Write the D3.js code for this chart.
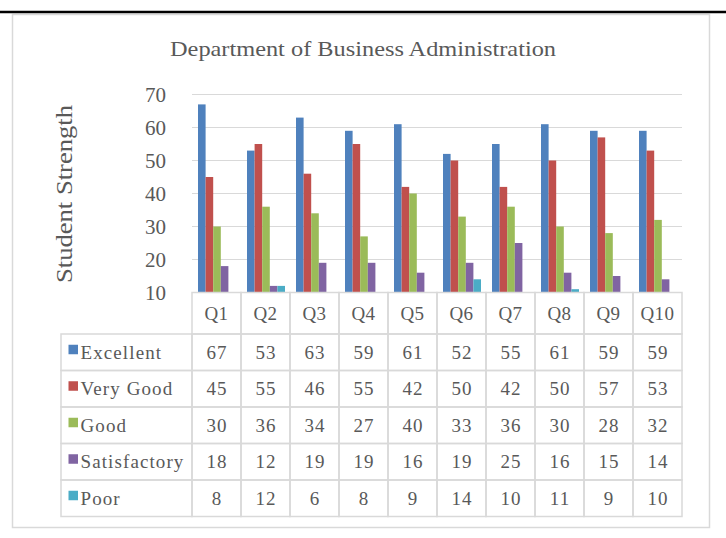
<!DOCTYPE html>
<html><head><meta charset="utf-8">
<script src="https://cdn.jsdelivr.net/npm/d3@7"></script>
<style>body{margin:0;background:#fff}svg{display:block}</style>
</head><body>
<script>
const categories = ["Q1","Q2","Q3","Q4","Q5","Q6","Q7","Q8","Q9","Q10"];
const seriesNames = ["Excellent","Very Good","Good","Satisfactory","Poor"];
const excellent = [67,53,63,59,61,52,55,61,59,59];
const veryGood = [45,55,46,55,42,50,42,50,57,53];
const good = [30,36,34,27,40,33,36,30,28,32];
const satisfactory = [18,12,19,19,16,19,25,16,15,14];
const poor = [8,12,6,8,9,14,10,11,9,10];
const yTicks = [10,20,30,40,50,60,70];
const colors = ["#4F81BD","#C0504D","#9BBB59","#8064A2","#4BACC6"];
const seriesValues = [excellent, veryGood, good, satisfactory, poor];

const W = 726, H = 538;
const svg = d3.select("body").append("svg").attr("width", W).attr("height", H);
const serif = "'Liberation Serif','Times New Roman',serif";
const textCol = "#595959";
const gridCol = "#d9d9d9";

// top black line and frame
svg.append("rect").attr("x",12.5).attr("y",14.5).attr("width",697).attr("height",513)
  .attr("fill","#fff").attr("stroke",gridCol).attr("stroke-width",1.5);
svg.append("line").attr("x1",0).attr("x2",W).attr("y1",12).attr("y2",12)
  .attr("stroke","#000").attr("stroke-width",2.5);

// title
svg.append("text").attr("x",170).attr("y",56)
  .attr("font-family",serif).attr("font-size",21).attr("fill",textCol)
  .attr("textLength",386).attr("lengthAdjust","spacingAndGlyphs")
  .text("Department of Business Administration");

const pLeft = 192, pRight = 682, pTop = 94.5, pBottom = 292.5;
const x0 = d3.scaleBand().domain(categories).range([pLeft,pRight]).paddingInner(0).paddingOuter(0);
const x1 = d3.scaleBand().domain(seriesNames).range([6, x0.bandwidth()-5]).padding(0);
const y = d3.scaleLinear().domain([10,70]).range([pBottom, pTop]);

// grid
svg.append("g").selectAll("line").data(yTicks.filter(t=>t>10)).join("line")
  .attr("x1",pLeft).attr("x2",pRight).attr("y1",d=>y(d)).attr("y2",d=>y(d))
  .attr("stroke",gridCol).attr("stroke-width",1);

// y axis labels
const yAxis = d3.axisLeft(y).tickValues(yTicks).tickSize(0).tickPadding(0);
const ga = svg.append("g").attr("transform",`translate(166,0)`).call(yAxis);
ga.select(".domain").remove();
ga.selectAll("text").attr("font-family",serif).attr("font-size",21).attr("fill",textCol).attr("dy","0.35em");

// y title
svg.append("text").attr("transform","translate(72,283) rotate(-90)")
  .attr("font-family",serif).attr("font-size",24).attr("fill",textCol)
  .attr("textLength",178).attr("lengthAdjust","spacingAndGlyphs").text("Student Strength");

// bars
const groups = svg.append("g").selectAll("g").data(categories).join("g")
  .attr("transform",d=>`translate(${x0(d)},0)`);
groups.selectAll("rect").data((c,i)=>seriesNames.map((s,j)=>({s, v: seriesValues[j][i], j}))).join("rect")
  .attr("x",d=>x1(d.s)).attr("width",x1.bandwidth())
  .attr("y",d=>y(Math.max(d.v,10))).attr("height",d=>y(10)-y(Math.max(d.v,10)))
  .attr("fill",d=>colors[d.j]);

// table
const tableTop = 292.5, headH = 41.5, rowH = 36.5, labelLeft = 61;
const tg = svg.append("g");
const cellFont = 19;
categories.forEach((c)=>{
  tg.append("rect").attr("x",x0(c)).attr("y",tableTop).attr("width",x0.bandwidth()).attr("height",headH)
    .attr("fill","none").attr("stroke",gridCol).attr("stroke-width",1.5);
  tg.append("text").attr("x",x0(c)+x0.bandwidth()/2).attr("y",tableTop+headH/2).attr("dy","0.35em")
    .attr("text-anchor","middle").attr("font-family",serif).attr("font-size",cellFont)
    .attr("letter-spacing",0.5).attr("fill",textCol).text(c);
});
seriesNames.forEach((s,j)=>{
  const ry = tableTop+headH+j*rowH;
  tg.append("rect").attr("x",labelLeft).attr("y",ry).attr("width",pLeft-labelLeft).attr("height",rowH)
    .attr("fill","none").attr("stroke",gridCol).attr("stroke-width",1.5);
  tg.append("rect").attr("x",68.5).attr("y",ry+rowH/2-7.5).attr("width",9.5).attr("height",9.5).attr("fill",colors[j]);
  tg.append("text").attr("x",80.5).attr("y",ry+rowH/2).attr("dy","0.35em")
    .attr("font-family",serif).attr("font-size",cellFont).attr("letter-spacing",1.1)
    .attr("fill",textCol).text(s);
  categories.forEach((c,i)=>{
    tg.append("rect").attr("x",x0(c)).attr("y",ry).attr("width",x0.bandwidth()).attr("height",rowH)
      .attr("fill","none").attr("stroke",gridCol).attr("stroke-width",1.5);
    tg.append("text").attr("x",x0(c)+x0.bandwidth()/2+0.5).attr("y",ry+rowH/2).attr("dy","0.35em")
      .attr("text-anchor","middle").attr("font-family",serif).attr("font-size",cellFont)
      .attr("letter-spacing",1).attr("fill",textCol)
      .text(seriesValues[j][i]);
  });
});
</script>
</body></html>
